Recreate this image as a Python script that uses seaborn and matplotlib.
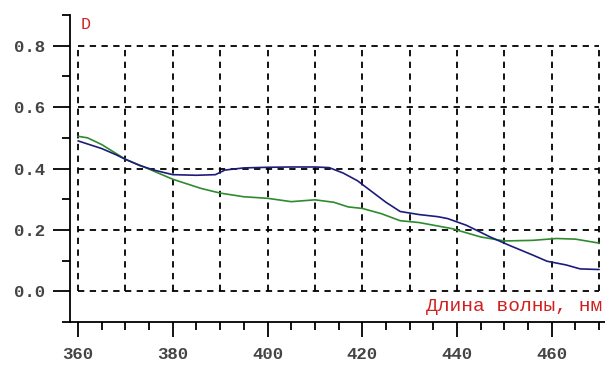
import pandas as pd
import seaborn as sns
import matplotlib.pyplot as plt
from matplotlib.ticker import MultipleLocator

# spectra
wl_blue = [360, 362, 365, 368, 370, 373, 376, 380, 385, 389, 391, 395, 400, 405, 410, 413,
           416, 419, 422, 425, 428, 432, 436, 438, 442, 447, 451, 456, 459, 463, 466, 470]
d_blue = [0.49, 0.48, 0.465, 0.445, 0.43, 0.41, 0.395, 0.38, 0.378, 0.38, 0.395, 0.402, 0.404, 0.405, 0.405, 0.403,
          0.385, 0.36, 0.325, 0.29, 0.26, 0.25, 0.243, 0.237, 0.215, 0.177, 0.15, 0.118, 0.098, 0.086, 0.073, 0.071]

wl_green = [360, 362, 365, 370, 375, 380, 386, 390, 395, 400, 405, 410, 414, 417, 420, 424,
            428, 432, 439, 445, 450, 456, 461, 465, 470]
d_green = [0.505, 0.50, 0.478, 0.43, 0.398, 0.365, 0.335, 0.32, 0.308, 0.303, 0.292, 0.298, 0.29, 0.275, 0.27, 0.253,
           0.23, 0.224, 0.204, 0.177, 0.164, 0.166, 0.172, 0.17, 0.157]

x_grid = list(range(360, 471, 10))
y_grid = [0.0, 0.2, 0.4, 0.6, 0.8]

sns.set_style("white")
plt.rcParams['font.family'] = ['Liberation Mono', 'DejaVu Sans Mono']

fig = plt.figure(figsize=(6.05, 3.65), dpi=100)
ax = fig.add_axes([0.1157, 0.1178, 0.884, 0.841])

# dashed grid box
ax.hlines(y_grid, 360, 470, colors='black', linestyles=(0, (3.5, 3)), linewidth=1.3, zorder=1)
ax.vlines(x_grid, 0, 0.8, colors='black', linestyles=(0, (3.5, 3)), linewidth=1.3, zorder=1)

blue_df = pd.DataFrame({'wl': wl_blue, 'D': d_blue})
green_df = pd.DataFrame({'wl': wl_green, 'D': d_green})
sns.lineplot(data=green_df, x='wl', y='D', ax=ax, color='#2e8b2e', linewidth=1.2, zorder=3)
sns.lineplot(data=blue_df, x='wl', y='D', ax=ax, color='#1c1c7a', linewidth=1.2, zorder=4)

ax.set_xlim(358.3, 471.2)
ax.set_ylim(-0.1, 0.9)
ax.xaxis.set_major_locator(MultipleLocator(20))
ax.xaxis.set_minor_locator(MultipleLocator(5))
ax.yaxis.set_major_locator(MultipleLocator(0.2))
ax.yaxis.set_minor_locator(MultipleLocator(0.1))
ax.set_yticks([0.0, 0.2, 0.4, 0.6, 0.8])
ax.set_yticklabels(['0.0', '0.2', '0.4', '0.6', '0.8'])

ax.tick_params(axis='x', which='major', length=11, width=1.3, pad=7, labelsize=12.5, colors='black')
ax.tick_params(axis='x', which='minor', length=5.5, width=1.3, colors='black')
ax.tick_params(axis='y', which='major', length=12, width=1.3, pad=6, labelsize=12.5, colors='black')
ax.tick_params(axis='y', which='minor', length=6, width=1.3, colors='black')
ax.tick_params(bottom=True, left=True, which='both')
for lab in ax.get_xticklabels() + ax.get_yticklabels():
    lab.set_fontweight('bold')
    lab.set_color('#444444')

for side in ['top', 'right']:
    ax.spines[side].set_visible(False)
for side in ['left', 'bottom']:
    ax.spines[side].set_color('black')
    ax.spines[side].set_linewidth(1.3)

ax.set_xlabel('')
ax.set_ylabel('')
ax.text(360.6, 0.87, 'D', color='#d02020', fontsize=12, ha='left', va='center')
ax.text(470.6, -0.048, 'Длина волны, нм', color='#d02020', fontsize=14, ha='right', va='center')

plt.savefig('out.png', dpi=100)
